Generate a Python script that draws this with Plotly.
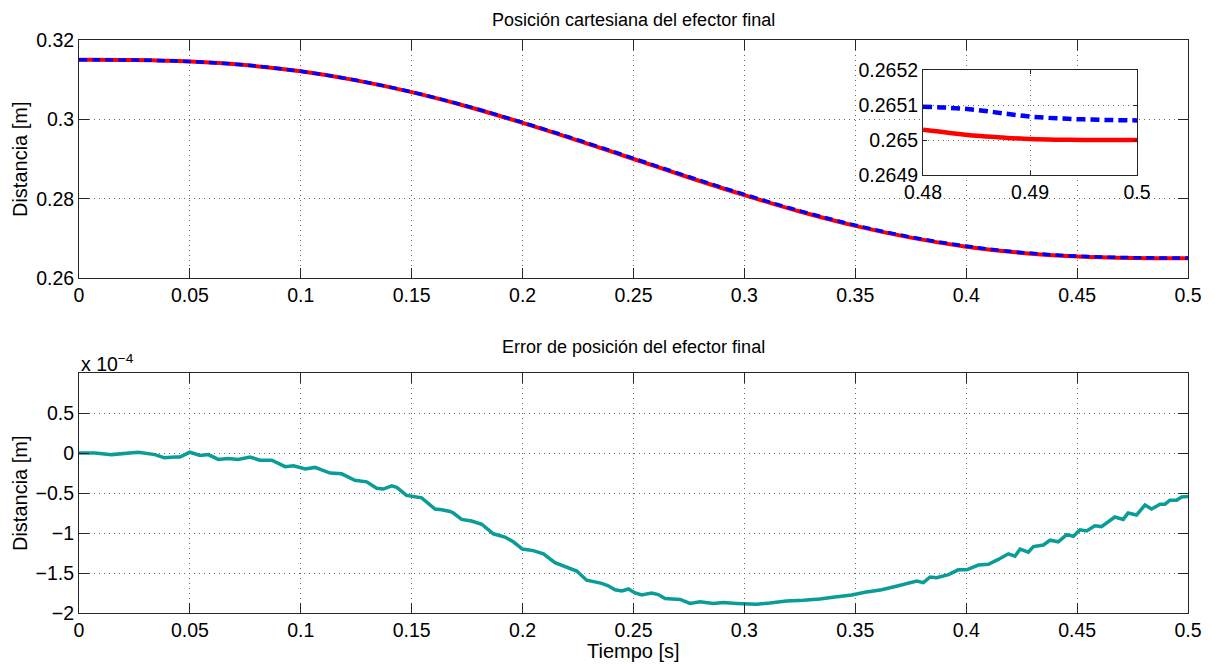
import plotly.graph_objects as go

# ---- data ----
t_main = [0.0, 0.025, 0.05, 0.075, 0.1, 0.125, 0.15, 0.175, 0.2, 0.225, 0.25,
          0.275, 0.3, 0.325, 0.35, 0.375, 0.4, 0.425, 0.45, 0.475, 0.5]
pos_ref = [0.3150, 0.31494, 0.31457, 0.31367, 0.3121, 0.30982, 0.30685, 0.30324,
           0.2991, 0.29466, 0.2900, 0.28534, 0.2809, 0.27676, 0.27315, 0.27018,
           0.2679, 0.26633, 0.26543, 0.26506, 0.2650]
pos_act = [0.3150, 0.31494, 0.31457, 0.31368, 0.31212, 0.30985, 0.30690, 0.30332,
           0.29922, 0.29481, 0.29018, 0.28553, 0.28109, 0.27694, 0.27333, 0.27034,
           0.26805, 0.26645, 0.26553, 0.26514, 0.265055]

t_zoom = [0.48, 0.4825, 0.485, 0.4875, 0.49, 0.4925, 0.495, 0.4975, 0.5]
ref_zoom = [0.265029, 0.265020, 0.265012, 0.265007, 0.265003, 0.265001, 0.265000, 0.265000, 0.265000]
act_zoom = [0.265095, 0.265092, 0.265086, 0.265076, 0.265067, 0.265062, 0.265059, 0.265057, 0.265056]

t_err = [0.0, 0.0072, 0.0147, 0.0207, 0.0267, 0.0343, 0.0385, 0.0433, 0.0455, 0.05,
         0.0546, 0.0583, 0.0628, 0.0673, 0.0718, 0.0771, 0.0816, 0.0869, 0.093, 0.0967,
         0.102, 0.1064, 0.1132, 0.1184, 0.1244, 0.1297, 0.1342, 0.1372, 0.141, 0.1432,
         0.1477, 0.1545, 0.1605, 0.1635, 0.1673, 0.1688, 0.1725, 0.177, 0.1816, 0.1868,
         0.192, 0.1958, 0.1999, 0.2048, 0.2094, 0.2146, 0.2191, 0.2244, 0.2289, 0.2357,
         0.2386, 0.2417, 0.2447, 0.2477, 0.2507, 0.2537, 0.2582, 0.2612, 0.2642, 0.271,
         0.2755, 0.28, 0.286, 0.2905, 0.2965, 0.3055, 0.3115, 0.319, 0.3266, 0.334,
         0.3408, 0.3484, 0.3544, 0.3619, 0.3694, 0.3754, 0.3777, 0.3807, 0.3837, 0.3867,
         0.392, 0.3964, 0.4002, 0.4055, 0.41, 0.4145, 0.419, 0.422, 0.4243, 0.428,
         0.4303, 0.4348, 0.4378, 0.4415, 0.4453, 0.4483, 0.4513, 0.4543, 0.458, 0.461,
         0.4633, 0.467, 0.4708, 0.473, 0.4768, 0.4806, 0.4836, 0.4874, 0.4896, 0.4919,
         0.4949, 0.4971, 0.5]
err_e4 = [0.0, -0.0, -0.02, -0.01, 0.01, -0.02, -0.06, -0.05, -0.05, 0.01,
          -0.03, -0.02, -0.08, -0.07, -0.08, -0.05, -0.09, -0.09, -0.17, -0.16,
          -0.20, -0.18, -0.25, -0.26, -0.34, -0.36, -0.44, -0.45, -0.41, -0.43,
          -0.53, -0.56, -0.70, -0.71, -0.73, -0.75, -0.83, -0.85, -0.89, -1.01,
          -1.05, -1.11, -1.20, -1.22, -1.26, -1.37, -1.42, -1.475, -1.59, -1.63,
          -1.66, -1.71, -1.725, -1.70, -1.75, -1.775, -1.75, -1.77, -1.82, -1.83,
          -1.88, -1.86, -1.88, -1.87, -1.88, -1.89, -1.875, -1.85, -1.84, -1.825,
          -1.80, -1.775, -1.74, -1.71, -1.66, -1.62, -1.60, -1.62, -1.55, -1.56,
          -1.52, -1.46, -1.46, -1.40, -1.39, -1.33, -1.26, -1.29, -1.20, -1.24,
          -1.17, -1.15, -1.09, -1.11, -1.02, -1.04, -0.96, -0.975, -0.91, -0.92,
          -0.87, -0.80, -0.83, -0.75, -0.775, -0.65, -0.70, -0.64, -0.64, -0.59,
          -0.59, -0.55, -0.545]

x_ticks = [0, 0.05, 0.1, 0.15, 0.2, 0.25, 0.3, 0.35, 0.4, 0.45, 0.5]
x_ticktext = ["0", "0.05", "0.1", "0.15", "0.2", "0.25", "0.3", "0.35", "0.4", "0.45", "0.5"]
y1_ticks = [0.26, 0.28, 0.30, 0.32]
y1_ticktext = ["0.26", "0.28", "0.3", "0.32"]
y2_ticks = [-2, -1.5, -1, -0.5, 0, 0.5]
y2_ticktext = ["\u22122", "\u22121.5", "\u22121", "\u22120.5", "0", "0.5"]
yz_ticks = [0.2649, 0.2650, 0.2651, 0.2652]
yz_ticktext = ["0.2649", "0.265", "0.2651", "0.2652"]
xz_ticks = [0.48, 0.49, 0.5]
xz_ticktext = ["0.48", "0.49", "0.5"]

RED = "#ff0000"
BLUE = "#0000ff"
TEAL = "#0a9c97"
FONT = "Liberation Sans, Arial, sans-serif"
FS = 18      # subplot titles
AFS = 20     # axis titles
TFS = 19.5   # tick labels

fig = go.Figure()
fig.add_trace(go.Scatter(x=t_main, y=pos_ref, mode="lines", line=dict(color=RED, width=4, shape="spline"),
                         xaxis="x", yaxis="y", showlegend=False))
fig.add_trace(go.Scatter(x=t_main, y=pos_act, mode="lines",
                         line=dict(color=BLUE, width=3.5, dash="8px,5px", shape="spline"),
                         xaxis="x", yaxis="y", showlegend=False))
fig.add_trace(go.Scatter(x=t_err, y=err_e4, mode="lines", line=dict(color=TEAL, width=3.5),
                         xaxis="x2", yaxis="y2", showlegend=False))
fig.add_trace(go.Scatter(x=t_zoom, y=ref_zoom, mode="lines", line=dict(color=RED, width=4.5, shape="spline"),
                         xaxis="x3", yaxis="y3", showlegend=False))
fig.add_trace(go.Scatter(x=t_zoom, y=act_zoom, mode="lines",
                         line=dict(color=BLUE, width=4.5, dash="9px,5px", shape="spline"),
                         xaxis="x3", yaxis="y3", showlegend=False))

ax_common = dict(showline=True, linecolor="#262626", linewidth=1, mirror="ticks",
                 ticks="inside", tickcolor="#262626", tickwidth=1, automargin=False,
                 showgrid=True, gridcolor="#666666", griddash="1px,4px", gridwidth=1,
                 zeroline=False, tickfont=dict(family=FONT, size=TFS, color="black"))

title_font = dict(family=FONT, size=FS, color="black")
axis_font = dict(family=FONT, size=AFS, color="black")

# page body has an 8px margin; figure is shrunk so the plot areas land where the reference has them
fig.update_layout(
    width=1206, height=656,
    margin=dict(l=71, r=26, t=32, b=51),
    paper_bgcolor="white", plot_bgcolor="white",
    font=dict(family=FONT, size=FS, color="black"),
    xaxis=dict(domain=[0, 1], anchor="y", range=[0, 0.5], tickvals=x_ticks, ticktext=x_ticktext,
               ticklen=10, **ax_common),
    yaxis=dict(domain=[0.5846, 1], anchor="x", range=[0.26, 0.32], tickvals=y1_ticks,
               ticktext=y1_ticktext, ticklen=10, **ax_common),
    xaxis2=dict(domain=[0, 1], anchor="y2", range=[0, 0.5], tickvals=x_ticks, ticktext=x_ticktext,
                ticklen=10, **ax_common),
    yaxis2=dict(domain=[0, 0.4188], anchor="x2", range=[-2, 1], tickvals=y2_ticks,
                ticktext=y2_ticktext, ticklen=10, **ax_common),
    xaxis3=dict(domain=[0.7611, 0.954], anchor="y3", range=[0.48, 0.5], tickvals=xz_ticks,
                ticktext=xz_ticktext, ticklen=4, **ax_common),
    yaxis3=dict(domain=[0.7644, 0.9476], anchor="x3", range=[0.2649, 0.2652], tickvals=yz_ticks,
                ticktext=yz_ticktext, ticklen=4, **ax_common),
    annotations=[
        dict(text="Posición cartesiana del efector final", xref="paper", yref="paper",
             x=0.5, y=1.0, yshift=8, xanchor="center", yanchor="bottom", showarrow=False,
             font=title_font),
        dict(text="Error de posición del efector final", xref="paper", yref="paper",
             x=0.5, y=0.4188, yshift=14, xanchor="center", yanchor="bottom", showarrow=False,
             font=title_font),
        dict(text="x 10<sup>\u22124</sup>", xref="paper", yref="paper",
             x=0, y=0.4188, yshift=-4, xanchor="left", yanchor="bottom", showarrow=False,
             font=dict(family=FONT, size=TFS, color="black")),
        dict(text="Distancia [m]", xref="paper", yref="paper", x=-0.0532, y=0.7923,
             xanchor="center", yanchor="middle", textangle=-90, showarrow=False, font=axis_font),
        dict(text="Distancia [m]", xref="paper", yref="paper", x=-0.0532, y=0.2094,
             xanchor="center", yanchor="middle", textangle=-90, showarrow=False, font=axis_font),
        dict(text="Tiempo [s]", xref="paper", yref="paper", x=0.5, y=-0.0663,
             xanchor="center", yanchor="middle", showarrow=False, font=axis_font),
    ],
)

fig.write_html("out.html")
